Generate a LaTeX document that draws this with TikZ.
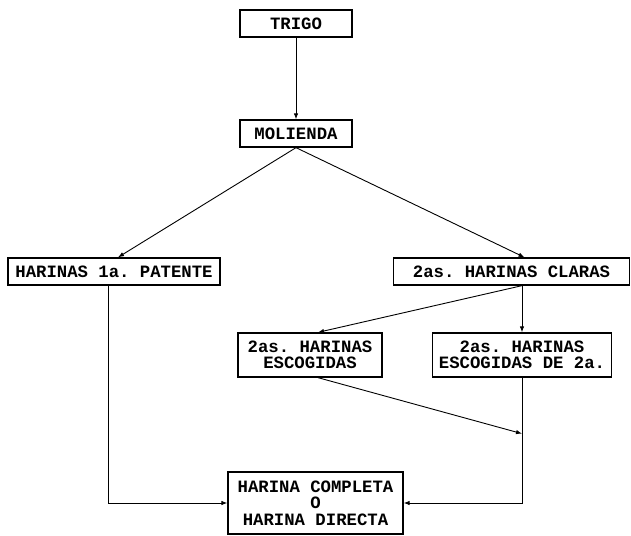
\documentclass[tikz,border=0pt]{standalone}
\usepackage{fontspec}
\setmonofont{Liberation Mono}
\usetikzlibrary{arrows.meta,calc}
\begin{document}
\begin{tikzpicture}[x=1pt,y=-1pt,
  box/.style={draw, line width=1.3pt, rectangle, align=center, inner sep=0pt,
    font=\ttfamily\bfseries\fontsize{17.3}{16.5}\selectfont},
  arr/.style={line width=0.9pt, -{Latex[length=6pt,width=4.5pt]}},
  ln/.style={line width=0.9pt}]
\useasboundingbox (0,0) rectangle (631,535);
\node[box, minimum width=112, minimum height=27] (trigo) at (296,23.5) {TRIGO};
\node[box, minimum width=112, minimum height=27] (mol) at (296,133.5) {MOLIENDA};
\node[box, minimum width=212, minimum height=27] (pat) at (114,271.5) {HARINAS 1a. PATENTE};
\node[box, minimum width=236, minimum height=27] (cla) at (511.5,271.5) {2as. HARINAS CLARAS};
\node[box, minimum width=144, minimum height=44] (esc) at (310,355) {2as. HARINAS\\ESCOGIDAS};
\node[box, minimum width=179, minimum height=44] (esc2) at (522,355) {2as. HARINAS\\ESCOGIDAS DE 2a.};
\node[box, minimum width=175, minimum height=62] (comp) at (315.5,503) {HARINA COMPLETA\\O\\HARINA DIRECTA};
\coordinate (pt1) at ($(pat.north)+(4,0)$);
\coordinate (pt2) at ($(cla.north)+(13,0)$);
\coordinate (c0) at (cla.south -| esc2.north);
\coordinate (et) at ($(esc.north)+(8,0)$);
\coordinate (eb) at ($(esc.south)+(8,0)$);
\coordinate (join) at ($(esc2.south)+(0,56)$);
\coordinate (ps) at ($(pat.south)+(-6,0)$);
\draw[arr] (trigo.south) -- (mol.north);
\draw[arr] (mol.south) -- (pt1);
\draw[arr] (mol.south) -- (pt2);
\draw[arr] (c0) -- (esc2.north);
\draw[arr] (c0) -- (et);
\draw[arr] (eb) -- (join);
\draw[arr] (esc2.south) -- (esc2.south |- comp.east) -- (comp.east);
\draw[arr] (ps) |- (comp.west);
\end{tikzpicture}
\end{document}
